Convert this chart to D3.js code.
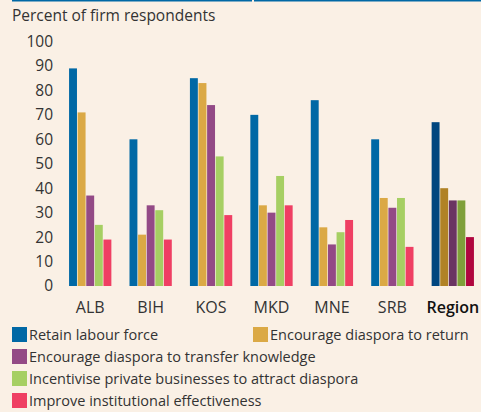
<!DOCTYPE html>
<html>
<head>
<meta charset="utf-8">
<script src="https://cdn.jsdelivr.net/npm/d3@7"></script>
<style>
  body { margin: 0; background: #faf0e5; }
  svg { display: block; font-family: 'Open Sans', sans-serif; }
</style>
</head>
<body>
<svg id="chart" width="481" height="412"></svg>
<script>
const countries = ['ALB', 'BIH', 'KOS', 'MKD', 'MNE', 'SRB', 'Region']
const seriesNames = [
  'Retain labour force',
  'Encourage diaspora to return',
  'Encourage diaspora to transfer knowledge',
  'Incentivise private businesses to attract diaspora',
  'Improve institutional effectiveness'
]
const retainLabour = [89, 60, 85, 70, 76, 60, 67]
const diasporaReturn = [71, 21, 83, 33, 24, 36, 40]
const transferKnowledge = [37, 33, 74, 30, 17, 32, 35]
const incentivise = [25, 31, 53, 45, 22, 36, 35]
const institutional = [19, 19, 29, 33, 27, 16, 20]
const yTicks = [0, 10, 20, 30, 40, 50, 60, 70, 80, 90, 100]

const colours = ['#0068a5', '#dba945', '#934a86', '#a6cf63', '#ef3f63']
const regionColours = ['#00467f', '#b08225', '#6a3462', '#7fa03a', '#b0063f']

const seriesValues = [retainLabour, diasporaReturn, transferKnowledge, incentivise, institutional]

const svg = d3.select('#chart')

// top rule
svg.append('line').attr('x1', 12).attr('x2', 252).attr('y1', 0.75).attr('y2', 0.75)
  .attr('stroke', '#0068a5').attr('stroke-width', 1.5)
svg.append('line').attr('x1', 254).attr('x2', 481).attr('y1', 0.75).attr('y2', 0.75)
  .attr('stroke', '#0068a5').attr('stroke-width', 1.5)

svg.append('text')
  .attr('x', 12).attr('y', 21)
  .attr('fill', '#333')
  .style('font-size', '15.5px')
  .text('Percent of firm respondents')

const y = d3.scaleLinear().domain([0, 100]).range([286, 41.5])
const x = d3.scaleBand().domain(countries).range([60, 483]).paddingInner(0.3).paddingOuter(0.15)
const xInner = d3.scaleBand().domain(d3.range(seriesNames.length)).range([0, x.bandwidth()]).paddingInner(0.08)

const yAxis = svg.append('g')
  .attr('transform', 'translate(53,0)')
  .call(d3.axisLeft(y).tickValues(yTicks).tickSize(0).tickPadding(0))
yAxis.select('.domain').remove()
yAxis.selectAll('text')
  .attr('fill', '#333')
  .style('font-size', '15.5px')
  .style('font-family', 'Open Sans, sans-serif')

const groups = svg.append('g').selectAll('g')
  .data(countries)
  .join('g')
  .attr('transform', d => 'translate(' + x(d) + ',0)')

groups.selectAll('rect')
  .data((c, ci) => seriesValues.map((vals, si) => ({ c: c, si: si, v: vals[ci] })))
  .join('rect')
  .attr('x', d => xInner(d.si))
  .attr('width', xInner.bandwidth())
  .attr('y', d => y(d.v))
  .attr('height', d => y(0) - y(d.v))
  .attr('fill', d => d.c === 'Region' ? regionColours[d.si] : colours[d.si])

const xAxis = svg.append('g')
  .attr('transform', 'translate(0,' + y(0) + ')')
  .call(d3.axisBottom(x).tickSize(0).tickPadding(16))
xAxis.select('.domain').remove()
xAxis.selectAll('text')
  .style('font-size', '16px')
  .style('font-family', 'Open Sans, sans-serif')
  .style('font-weight', d => d === 'Region' ? '600' : 'normal')
  .attr('fill', d => d === 'Region' ? '#111' : '#333')

const legendPos = [[12, 327], [253, 327], [12, 349], [12, 371], [12, 393]]
const legend = svg.append('g').selectAll('g')
  .data(seriesNames)
  .join('g')
  .attr('transform', (d, i) => 'translate(' + legendPos[i][0] + ',' + legendPos[i][1] + ')')
legend.append('rect')
  .attr('width', 15).attr('height', 15)
  .attr('fill', (d, i) => colours[i])
legend.append('text')
  .attr('x', 17).attr('y', 12.5)
  .attr('fill', '#333')
  .style('font-size', '14.5px')
  .text(d => d)
</script>
</body>
</html>
